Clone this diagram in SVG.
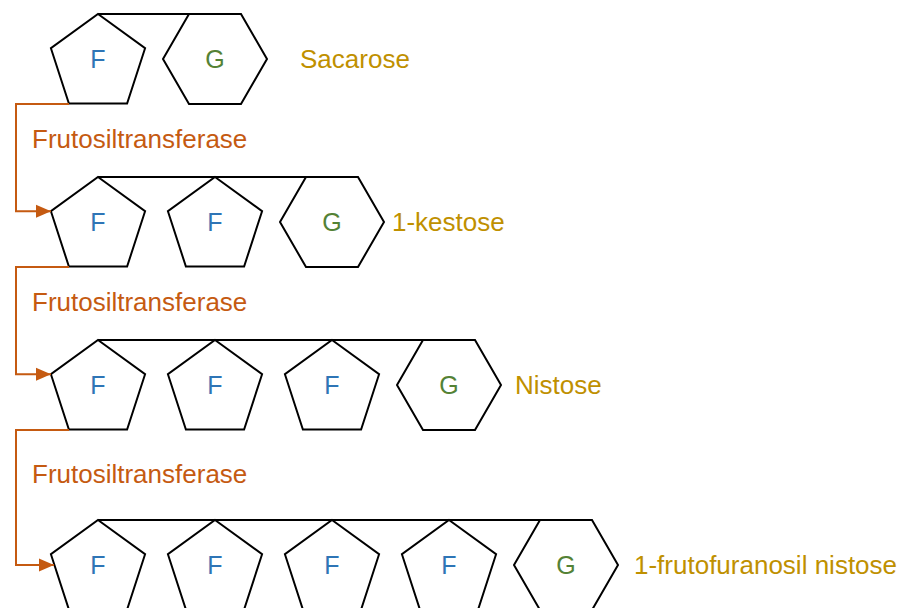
<svg xmlns="http://www.w3.org/2000/svg" width="898" height="608" viewBox="0 0 898 608">
<style>
.sh{fill:none;stroke:#000;stroke-width:2;stroke-linejoin:miter}
.bar{fill:none;stroke:#000;stroke-width:2}
.f{font-family:"Liberation Sans",Arial,sans-serif;font-size:25px;fill:#2e75b6;text-anchor:middle}
.g{font-family:"Liberation Sans",Arial,sans-serif;font-size:25px;fill:#548235;text-anchor:middle}
.lbl{font-family:"Liberation Sans",Arial,sans-serif;font-size:26px;fill:#bf9000}
.enz{font-family:"Liberation Sans",Arial,sans-serif;font-size:26px;fill:#c55a11}
.con{fill:none;stroke:#c55a11;stroke-width:2}
</style>
<defs>
<polygon id="pent" points="0,-49.5 47.08,-15.3 29.1,40.05 -29.1,40.05 -47.08,-15.3"/>
<polygon id="hex" points="-26,-45 26,-45 52,0 26,45 -26,45 -52,0"/>
<marker id="arr" markerUnits="userSpaceOnUse" markerWidth="16" markerHeight="14" refX="15" refY="7" orient="auto">
<path d="M0,0.5 L15,7 L0,13.5 z" fill="#c55a11"/>
</marker>
</defs>

<g id="sacarose">
<line class="bar" x1="98" y1="14" x2="241" y2="14"/>
<use href="#pent" class="sh" x="98" y="63.5"/>
<text class="f" x="98" y="68">F</text>
<use href="#hex" class="sh" x="215" y="59"/>
<text class="g" x="215" y="68">G</text>
<text class="lbl" x="300" y="68">Sacarose</text>
</g>

<g id="kestose">
<line class="bar" x1="98" y1="177" x2="358" y2="177"/>
<use href="#pent" class="sh" x="98" y="226.5"/>
<text class="f" x="98" y="231">F</text>
<use href="#pent" class="sh" x="215" y="226.5"/>
<text class="f" x="215" y="231">F</text>
<use href="#hex" class="sh" x="332" y="222"/>
<text class="g" x="332" y="231">G</text>
<text class="lbl" x="392" y="231">1-kestose</text>
</g>

<g id="nistose">
<line class="bar" x1="98" y1="340" x2="475" y2="340"/>
<use href="#pent" class="sh" x="98" y="389.5"/>
<text class="f" x="98" y="394">F</text>
<use href="#pent" class="sh" x="215" y="389.5"/>
<text class="f" x="215" y="394">F</text>
<use href="#pent" class="sh" x="332" y="389.5"/>
<text class="f" x="332" y="394">F</text>
<use href="#hex" class="sh" x="449" y="385"/>
<text class="g" x="449" y="394">G</text>
<text class="lbl" x="515" y="394">Nistose</text>
</g>

<g id="frutofuranosil-nistose">
<line class="bar" x1="98" y1="520" x2="592" y2="520"/>
<use href="#pent" class="sh" x="98" y="569.5"/>
<text class="f" x="98" y="574">F</text>
<use href="#pent" class="sh" x="215" y="569.5"/>
<text class="f" x="215" y="574">F</text>
<use href="#pent" class="sh" x="332" y="569.5"/>
<text class="f" x="332" y="574">F</text>
<use href="#pent" class="sh" x="449" y="569.5"/>
<text class="f" x="449" y="574">F</text>
<use href="#hex" class="sh" x="566" y="565"/>
<text class="g" x="566" y="574">G</text>
<text class="lbl" x="634" y="574">1-frutofuranosil nistose</text>
</g>

<g id="connectors">
<path class="con" d="M69,104 H16 V211.2 H51" marker-end="url(#arr)"/>
<text class="enz" x="32" y="148">Frutosiltransferase</text>
<path class="con" d="M69,267 H16 V374.2 H51" marker-end="url(#arr)"/>
<text class="enz" x="32" y="311">Frutosiltransferase</text>
<path class="con" d="M69,430 H16 V565 H54" marker-end="url(#arr)"/>
<text class="enz" x="32" y="483">Frutosiltransferase</text>
</g>
</svg>
